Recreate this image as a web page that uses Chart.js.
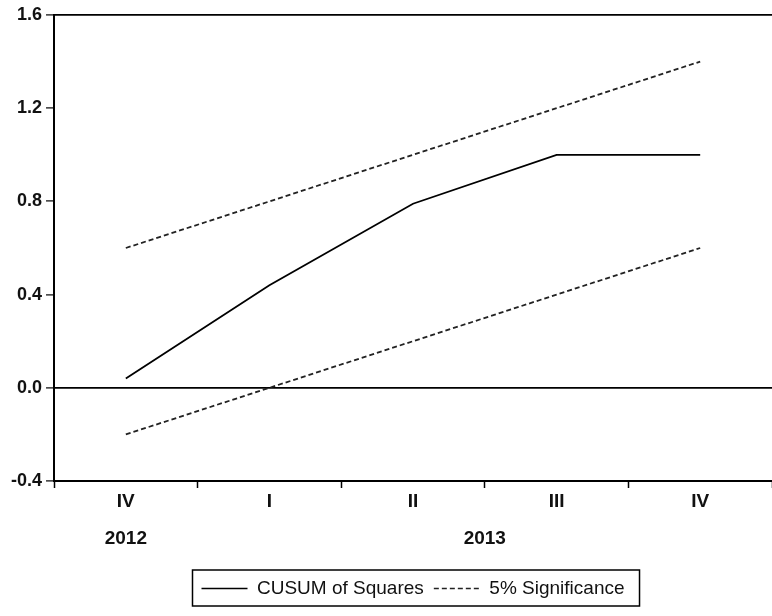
<!DOCTYPE html>
<html>
<head>
<meta charset="utf-8">
<script src="https://cdn.jsdelivr.net/npm/chart.js@4.4.1/dist/chart.umd.min.js"></script>
<style>
  html, body { margin: 0; padding: 0; background: #fff; }
  #wrap { width: 772px; height: 616px; }
</style>
</head>
<body>
<div id="wrap"><canvas id="cusumChart"></canvas></div>
<script>
// quarters on the x axis, years drawn underneath
const quarters = ['IV', 'I', 'II', 'III', 'IV'];
const years = ['2012', '2013'];
const yearSpans = [[0, 0], [1, 4]]; // first and last quarter index of each year

// values
const cusumSq = [0.04, 0.44, 0.79, 1.0, 1.0];
const upperBand = [0.6, 0.8, 1.0, 1.2, 1.4];
const lowerBand = [-0.2, 0.0, 0.2, 0.4, 0.6];

const yTicks = [-0.4, 0.0, 0.4, 0.8, 1.2, 1.6];

const FONT = "'Liberation Sans', Arial, sans-serif";

// year labels below the quarter labels
const yearLabels = {
  id: 'yearLabels',
  afterDraw(chart) {
    const xs = chart.scales.x;
    const ctx = chart.ctx;
    ctx.save();
    ctx.font = 'bold 19px ' + FONT;
    ctx.fillStyle = '#111';
    ctx.textAlign = 'center';
    ctx.textBaseline = 'middle';
    years.forEach((yr, i) => {
      const a = xs.getPixelForValue(yearSpans[i][0]);
      const b = xs.getPixelForValue(yearSpans[i][1]);
      ctx.fillText(yr, (a + b) / 2, xs.top + 58);
    });
    ctx.restore();
  }
};

// frame round the legend
const legendFrame = {
  id: 'legendFrame',
  afterDraw(chart) {
    const boxes = chart.legend && chart.legend.legendHitBoxes;
    if (!boxes || !boxes.length) return;
    let l = Infinity, r = -Infinity, t = Infinity, b = -Infinity;
    boxes.forEach(h => {
      l = Math.min(l, h.left); r = Math.max(r, h.left + h.width);
      t = Math.min(t, h.top); b = Math.max(b, h.top + h.height);
    });
    const ctx = chart.ctx;
    ctx.save();
    ctx.strokeStyle = '#000';
    ctx.lineWidth = 1.5;
    ctx.strokeRect(l - 9, t - 9, (r - l) + 24, (b - t) + 17);
    ctx.restore();
  }
};

const ctx = document.getElementById('cusumChart').getContext('2d');

new Chart(ctx, {
  type: 'line',
  data: {
    labels: quarters,
    datasets: [
      {
        label: 'CUSUM of Squares',
        data: cusumSq,
        borderColor: '#000',
        borderWidth: 1.8,
        pointRadius: 0,
        tension: 0,
        fill: false
      },
      {
        label: '5% Significance',
        data: upperBand,
        borderColor: '#222',
        borderWidth: 1.8,
        borderDash: [5, 3],
        pointRadius: 0,
        tension: 0,
        fill: false
      },
      {
        label: '5% Significance (lower)',
        data: lowerBand,
        borderColor: '#222',
        borderWidth: 1.8,
        borderDash: [5, 3],
        pointRadius: 0,
        tension: 0,
        fill: false
      }
    ]
  },
  options: {
    responsive: true,
    maintainAspectRatio: false,
    animation: false,
    layout: { padding: { top: 15, right: 0, left: 7, bottom: 8 } },
    plugins: {
      title: { display: false },
      tooltip: { enabled: false },
      legend: {
        display: true,
        position: 'bottom',
        fullSize: false,
        labels: {
          filter: item => item.datasetIndex < 2,
          // default labels drop the dash when point styles are used, so put it back
          generateLabels(chart) {
            const items = Chart.defaults.plugins.legend.labels.generateLabels(chart);
            items.forEach(it => {
              const ds = chart.data.datasets[it.datasetIndex];
              it.lineDash = ds.borderDash || [];
              it.lineWidth = 1.5;
              it.strokeStyle = ds.borderColor;
            });
            return items;
          },
          usePointStyle: true,
          pointStyle: 'line',
          pointStyleWidth: 46,
          boxHeight: 10,
          padding: 10,
          color: '#111',
          font: { family: FONT, size: 19 }
        }
      }
    },
    scales: {
      x: {
        type: 'category',
        offset: true,
        afterFit(scale) { scale.height = 88; },
        grid: {
          offset: true,
          drawOnChartArea: false,
          drawTicks: true,
          tickLength: 7,
          tickColor: '#000',
          tickWidth: 1.5
        },
        border: { color: '#000', width: 2 },
        ticks: {
          color: '#111',
          padding: 2,
          font: { family: FONT, size: 19, weight: 'bold' }
        }
      },
      y: {
        min: -0.4,
        max: 1.6,
        afterBuildTicks(scale) { scale.ticks = yTicks.map(v => ({ value: v })); },
        grid: {
          drawOnChartArea: true,
          color: c => (c.tick && (Math.abs(c.tick.value) < 1e-9 || Math.abs(c.tick.value - 1.6) < 1e-9)) ? '#000' : 'rgba(0,0,0,0)',
          lineWidth: 1.8,
          tickLength: 8,
          tickColor: '#000',
          tickWidth: 1.2
        },
        border: { color: '#000', width: 2 },
        ticks: {
          color: '#111',
          padding: 4,
          font: { family: FONT, size: 18, weight: 'bold' },
          callback: v => Number(v).toFixed(1)
        }
      }
    }
  },
  plugins: [yearLabels, legendFrame]
});
</script>
</body>
</html>
